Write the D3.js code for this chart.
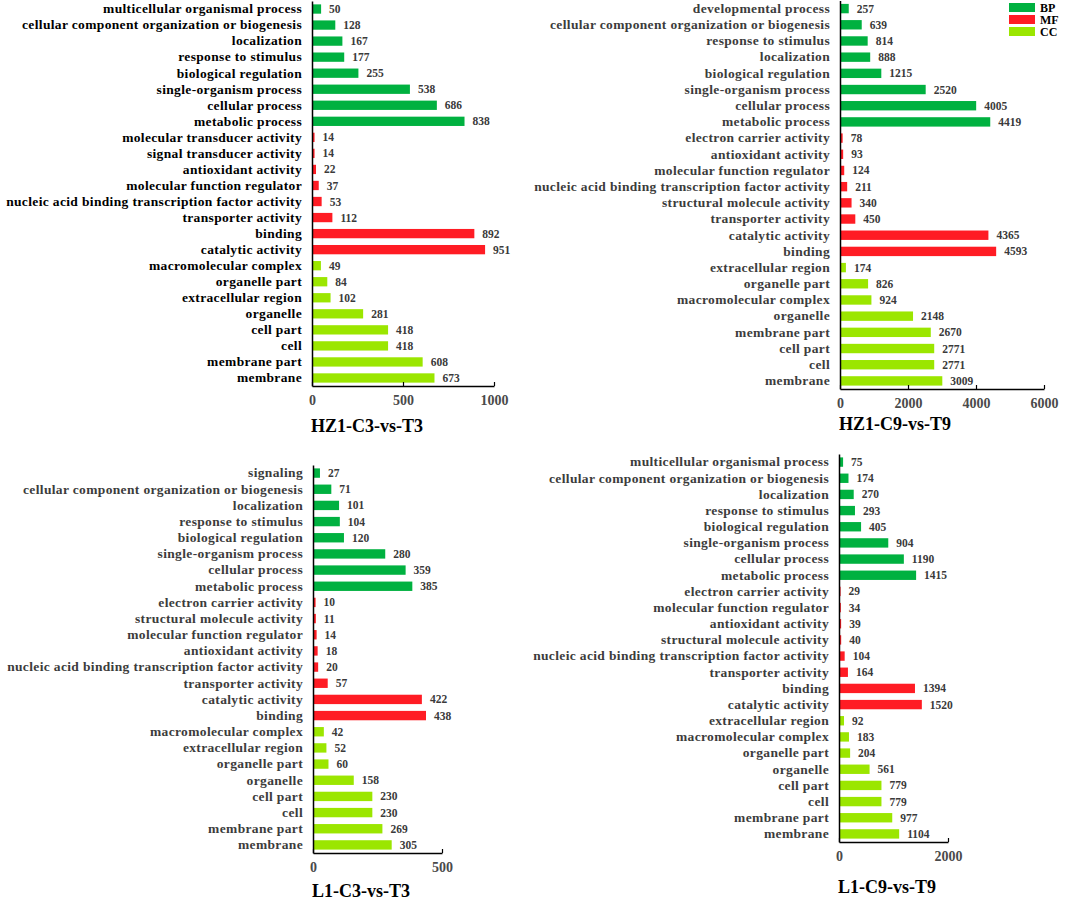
<!DOCTYPE html>
<html>
<head>
<meta charset="utf-8">
<script src="https://cdn.jsdelivr.net/npm/d3@7"></script>
<style>
  body { margin: 0; background: #fff; }
  svg { display: block; }
  text { font-family: "Liberation Serif", "Times New Roman", serif; font-weight: bold; }
</style>
</head>
<body>
<div id="chart"></div>
<script>
// ---- data (top to bottom in each panel) ----
const groups = ["BP", "MF", "CC"];
const groupColors = ["#00b140", "#ff1c24", "#9be600"];

const hz1c3Terms = ["multicellular organismal process", "cellular component organization or biogenesis", "localization",
    "response to stimulus", "biological regulation", "single-organism process", "cellular process", "metabolic process",
    "molecular transducer activity", "signal transducer activity", "antioxidant activity", "molecular function regulator",
    "nucleic acid binding transcription factor activity", "transporter activity", "binding", "catalytic activity",
    "macromolecular complex", "organelle part", "extracellular region", "organelle", "cell part", "cell",
    "membrane part", "membrane"];
const hz1c3Values = [50, 128, 167, 177, 255, 538, 686, 838, 14, 14, 22, 37, 53, 112, 892, 951, 49, 84, 102, 281, 418, 418, 608, 673];

const hz1c9Terms = ["developmental process", "cellular component organization or biogenesis", "response to stimulus",
    "localization", "biological regulation", "single-organism process", "cellular process", "metabolic process",
    "electron carrier activity", "antioxidant activity", "molecular function regulator",
    "nucleic acid binding transcription factor activity", "structural molecule activity", "transporter activity",
    "catalytic activity", "binding", "extracellular region", "organelle part", "macromolecular complex", "organelle",
    "membrane part", "cell part", "cell", "membrane"];
const hz1c9Values = [257, 639, 814, 888, 1215, 2520, 4005, 4419, 78, 93, 124, 211, 340, 450, 4365, 4593, 174, 826, 924, 2148, 2670, 2771, 2771, 3009];

const l1c3Terms = ["signaling", "cellular component organization or biogenesis", "localization", "response to stimulus",
    "biological regulation", "single-organism process", "cellular process", "metabolic process",
    "electron carrier activity", "structural molecule activity", "molecular function regulator", "antioxidant activity",
    "nucleic acid binding transcription factor activity", "transporter activity", "catalytic activity", "binding",
    "macromolecular complex", "extracellular region", "organelle part", "organelle", "cell part", "cell",
    "membrane part", "membrane"];
const l1c3Values = [27, 71, 101, 104, 120, 280, 359, 385, 10, 11, 14, 18, 20, 57, 422, 438, 42, 52, 60, 158, 230, 230, 269, 305];

const l1c9Terms = ["multicellular organismal process", "cellular component organization or biogenesis", "localization",
    "response to stimulus", "biological regulation", "single-organism process", "cellular process", "metabolic process",
    "electron carrier activity", "molecular function regulator", "antioxidant activity", "structural molecule activity",
    "nucleic acid binding transcription factor activity", "transporter activity", "binding", "catalytic activity",
    "extracellular region", "macromolecular complex", "organelle part", "organelle", "cell part", "cell",
    "membrane part", "membrane"];
const l1c9Values = [75, 174, 270, 293, 405, 904, 1190, 1415, 29, 34, 39, 40, 104, 164, 1394, 1520, 92, 183, 204, 561, 779, 779, 977, 1104];

// each panel: 8 BP, 8 MF, 8 CC
const termGroups = [].concat(Array(8).fill("BP"), Array(8).fill("MF"), Array(8).fill("CC"));

const titles = ["HZ1-C3-vs-T3", "HZ1-C9-vs-T9", "L1-C3-vs-T3", "L1-C9-vs-T9"];
const ticks = [[0, 500, 1000], [0, 2000, 4000, 6000], [0, 500], [0, 2000]];
const maxes = [1000, 6000, 500, 2000];

// ---- layout ----
const W = 1065, H = 902;
const panels = [
    {terms: hz1c3Terms, values: hz1c3Values, x0: 312, x1: 494, yTop: 1,   yBot: 386, titleY: 432, labelColor: "#000"},
    {terms: hz1c9Terms, values: hz1c9Values, x0: 840, x1: 1044, yTop: 0.5, yBot: 389, titleY: 430, labelColor: "#3c3c3c"},
    {terms: l1c3Terms,  values: l1c3Values,  x0: 313, x1: 442, yTop: 465, yBot: 853, titleY: 897, labelColor: "#3c3c3c"},
    {terms: l1c9Terms,  values: l1c9Values,  x0: 839, x1: 948, yTop: 454, yBot: 842, titleY: 893, labelColor: "#3c3c3c"}
];

const color = d3.scaleOrdinal().domain(groups).range(groupColors);

const svg = d3.select("#chart").append("svg")
    .attr("width", W)
    .attr("height", H);

panels.forEach((p, i) => {
    let x = d3.scaleLinear().domain([0, maxes[i]]).range([p.x0, p.x1]);
    let y = d3.scaleBand().domain(p.terms).range([p.yTop, p.yBot]).paddingInner(0.42).paddingOuter(0.21);

    let g = svg.append("g").attr("class", "panel");

    // bars
    g.selectAll("rect")
        .data(p.terms)
        .enter()
        .append("rect")
        .attr("x", x(0))
        .attr("y", d => y(d))
        .attr("width", (d, j) => x(p.values[j]) - x(0))
        .attr("height", y.bandwidth())
        .attr("fill", (d, j) => color(termGroups[j]));

    // value labels
    g.selectAll(".val")
        .data(p.terms)
        .enter()
        .append("text")
        .attr("class", "val")
        .attr("x", (d, j) => x(p.values[j]) + 8)
        .attr("y", d => y(d) + y.bandwidth() / 2)
        .attr("dy", "0.35em")
        .style("font-size", "11.5px")
        .style("fill", "#3a3a3a")
        .text((d, j) => p.values[j]);

    // category axis (line + labels, no ticks)
    let yAxis = g.append("g")
        .attr("transform", `translate(${x(0)},0)`)
        .call(d3.axisLeft(y).tickSize(0).tickPadding(10));
    yAxis.select(".domain").attr("stroke", "#000").attr("stroke-width", 1.5);
    yAxis.selectAll("text")
        .style("font-family", "'Liberation Serif', serif")
        .style("font-weight", "bold")
        .style("font-size", "13.5px")
        .style("letter-spacing", "0.35px")
        .style("fill", p.labelColor);

    // value axis, ticks pointing up
    let xAxis = g.append("g")
        .attr("transform", `translate(0,${p.yBot})`)
        .call(d3.axisBottom(x).tickValues(ticks[i]).tickFormat(d3.format("d"))
            .tickSizeInner(-4).tickSizeOuter(0).tickPadding(9));
    xAxis.select(".domain").attr("stroke", "#000").attr("stroke-width", 1.5);
    xAxis.selectAll(".tick line").attr("stroke", "#000").attr("stroke-width", 1.2);
    xAxis.selectAll("text")
        .style("font-family", "'Liberation Serif', serif")
        .style("font-weight", "bold")
        .style("font-size", "14px")
        .style("fill", "#4a4a4a");

    // title
    g.append("text")
        .attr("x", p.x0 - 1)
        .attr("y", p.titleY)
        .style("font-size", "18px")
        .style("fill", "#000")
        .text(titles[i]);
});

// legend (top right)
let legend = svg.append("g").attr("transform", "translate(1009,3)");
legend.selectAll("rect")
    .data(groups)
    .enter()
    .append("rect")
    .attr("x", 0)
    .attr("y", (d, i) => i * 12)
    .attr("width", 26)
    .attr("height", 9)
    .attr("fill", d => color(d));
legend.selectAll("text")
    .data(groups)
    .enter()
    .append("text")
    .attr("x", 31)
    .attr("y", (d, i) => i * 12 + 4.5)
    .attr("dy", "0.35em")
    .style("font-size", "12px")
    .style("fill", "#000")
    .text(d => d);
</script>
</body>
</html>
